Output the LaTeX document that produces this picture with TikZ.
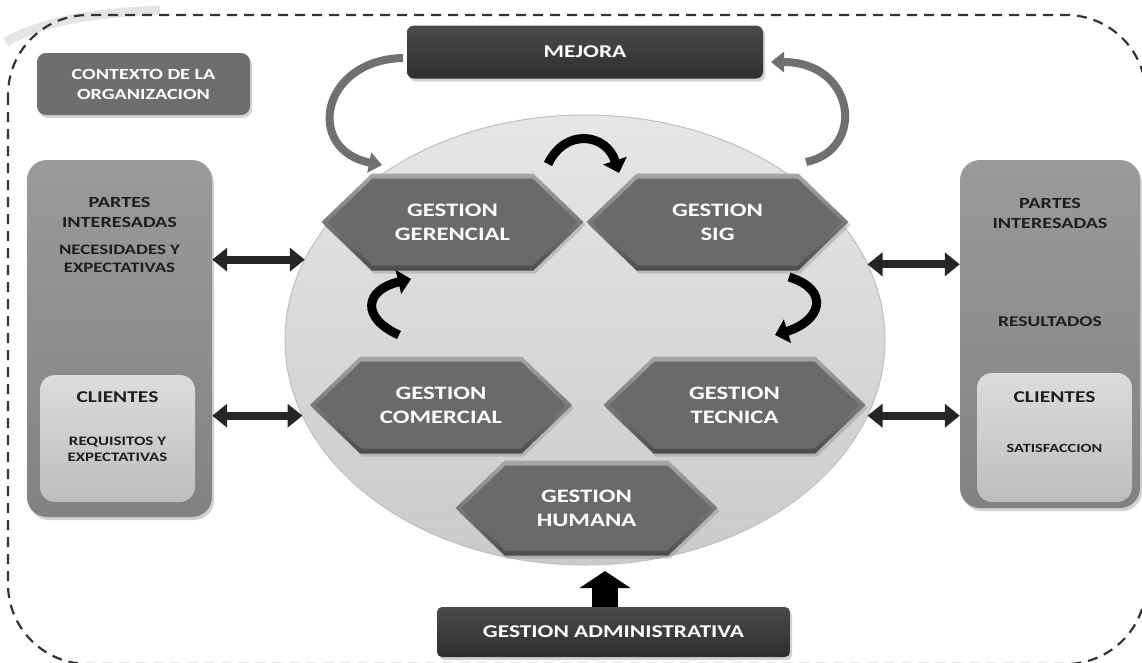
\documentclass[tikz,border=0pt]{standalone}
\usepackage{fontspec}
\setmainfont{Carlito}[FakeStretch=1.3]
\usetikzlibrary{shapes.symbols,shapes.geometric,arrows.meta,shadows,calc}
\definecolor{boxdark}{HTML}{2F2F2F}
\definecolor{boxdarklt}{HTML}{4A4A4A}
\definecolor{ctxgray}{HTML}{6E6E6E}
\definecolor{partlt}{HTML}{9A9A9A}
\definecolor{partdk}{HTML}{828282}
\definecolor{clilt}{HTML}{DCDCDC}
\definecolor{clidk}{HTML}{BDBDBD}
\definecolor{hexlt}{HTML}{A6A6A6}
\definecolor{hexdk}{HTML}{4C4C4C}
\definecolor{hexfill}{HTML}{6A6A6A}
\definecolor{elltop}{HTML}{E6E6E6}
\definecolor{ellbot}{HTML}{CACACA}
\definecolor{txtdark}{HTML}{1E1E1E}
\definecolor{arcgray}{HTML}{707070}
\definecolor{arrdark}{HTML}{262626}
\tikzset{
  shad/.style={drop shadow={opacity=0.35,shadow xshift=2pt,shadow yshift=-3pt}},
  hexout/.style={shape=signal, signal to=west and east, signal pointer angle=88,
    minimum width=262pt, minimum height=97pt, inner sep=0pt, outer sep=0pt,
    top color=hexlt, bottom color=hexdk, shad},
  hexin/.style={shape=signal, signal to=west and east, signal pointer angle=88,
    minimum width=250pt, minimum height=87pt, inner sep=0pt, outer sep=0pt,
    fill=hexfill, text=white, align=center,
    font=\fontsize{19}{24}\selectfont\bfseries},
  darkbox/.style={rectangle, rounded corners=7pt, top color=boxdarklt, bottom color=boxdark,
    text=white, align=center, inner sep=0pt, shad,
    font=\fontsize{18}{22}\selectfont\bfseries},
  ctxbox/.style={rectangle, rounded corners=9pt, fill=ctxgray, text=white, align=center,
    inner sep=0pt, shad, font=\fontsize{15.5}{20}\selectfont\bfseries},
  partbox/.style={rectangle, rounded corners=20pt, top color=partlt, bottom color=partdk,
    inner sep=0pt, shad},
  clibox/.style={rectangle, rounded corners=15pt, top color=clilt, bottom color=clidk,
    inner sep=0pt, shad},
  ttl/.style={text=txtdark, align=center, inner sep=0pt, font=\fontsize{15.5}{20}\selectfont\bfseries},
  sub/.style={text=txtdark, align=center, inner sep=0pt, font=\fontsize{14.5}{18}\selectfont\bfseries},
  dblarrow/.style={draw=arrdark, line width=8pt,
    {Triangle[width=23pt,length=15pt]}-{Triangle[width=23pt,length=15pt]}},
  cycarrow/.style={draw=black, line width=9pt, -{Triangle[width=24pt,length=13pt]}},
  arcarrow/.style={draw=arcgray, line width=8pt, -{Triangle[width=20pt,length=13pt]}},
  uparrow/.style={draw=black, line width=26pt, -{Triangle[width=50pt,length=17pt]}},
}
\begin{document}
\begin{tikzpicture}[x=1pt,y=-1pt]
\useasboundingbox (0,0) rectangle (1142,662);
\clip (0,0) rectangle (1142,662);
\fill[white] (0,0) rectangle (1142,662);

% faint band at top-left
\draw[line width=9pt, gray!30, opacity=0.7] (6,42) .. controls (40,22) and (90,13) .. (160,10);

% dashed frame
\draw[black!80, line width=2.2pt, dash pattern=on 10pt off 7pt, rounded corners=80pt]
  (8,15) rectangle (1146,664);

% ellipse
\node[ellipse, minimum width=600pt, minimum height=450pt, inner sep=0pt, outer sep=0pt,
  top color=elltop, bottom color=ellbot, draw=black!25, line width=1pt] (ell) at (585,340) {};

% top boxes
\node[darkbox, minimum width=356pt, minimum height=53pt] (mej) at (585,52) {MEJORA};
\node[ctxbox, minimum width=213pt, minimum height=62pt] (ctx) at (143.5,84) {CONTEXTO DE LA\\ORGANIZACION};

% left side
\node[partbox, minimum width=185pt, minimum height=357pt] (pl) at (119.5,338.5) {};
\node[clibox, minimum width=155pt, minimum height=127pt] (cl) at (117.5,438.5) {};
\node[ttl] (plt) at (119.5,212) {PARTES\\INTERESADAS};
\node[sub] (pls) at (119.5,259) {NECESIDADES Y\\EXPECTATIVAS};
\node[ttl, font=\fontsize{16.5}{20}\selectfont\bfseries] (clt) at (117.5,397) {CLIENTES};
\node[sub, font=\fontsize{13}{16}\selectfont\bfseries] (cls) at (117.5,449.5) {REQUISITOS Y\\EXPECTATIVAS};

% right side
\node[partbox, minimum width=180pt, minimum height=348pt] (pr) at (1050,334) {};
\node[clibox, minimum width=155pt, minimum height=129pt] (cr) at (1054.5,437.5) {};
\node[ttl] (prt) at (1050,213) {PARTES\\INTERESADAS};
\node[sub, font=\fontsize{15}{18}\selectfont\bfseries] (prs) at (1050,322) {RESULTADOS};
\node[ttl, font=\fontsize{16.5}{20}\selectfont\bfseries] (crt) at (1054.5,397) {CLIENTES};
\node[sub, font=\fontsize{12.5}{15}\selectfont\bfseries] (crs) at (1054.5,448) {SATISFACCION};

% hexagons
\node[hexout] (gerB) at (452.5,222) {};
\node[hexin] (ger) at (452.5,222) {GESTION\\GERENCIAL};
\node[hexout] (sigB) at (717.5,222) {};
\node[hexin] (sig) at (717.5,222) {GESTION\\SIG};
\node[hexout] (comB) at (441,405) {};
\node[hexin] (com) at (441,405) {GESTION\\COMERCIAL};
\node[hexout] (tecB) at (734.5,405) {};
\node[hexin] (tec) at (734.5,405) {GESTION\\TECNICA};
\node[hexout, minimum height=95pt] (humB) at (586.5,508) {};
\node[hexin, minimum height=85pt] (hum) at (586.5,508) {GESTION\\HUMANA};

% bottom box
\node[darkbox, rounded corners=5pt, minimum width=353pt, minimum height=50pt] (ga) at (613.5,632) {GESTION ADMINISTRATIVA};

% double arrows
\draw[dblarrow] (pl.east |- ell.164) -- (ell.164);
\draw[dblarrow] (pl.east |- ell.195) -- (ell.195);
\draw[dblarrow] (ell.15) -- (pr.west |- ell.15);
\draw[dblarrow] (ell.345) -- (pr.west |- ell.345);

% cycle arrows
\coordinate (c1a) at (548,164);
\coordinate (c1b) at (619,173);
\coordinate (c2a) at (789,277);
\coordinate (c2b) at (775,335);
\coordinate (c3a) at (399,335);
\coordinate (c3b) at (411,279);
\draw[cycarrow] (c1a) .. controls (565,128) and (606,133) .. (c1b);
\draw[cycarrow] (c2a) .. controls (831,290) and (821,321) .. (c2b);
\draw[cycarrow] (c3a) .. controls (361,318) and (364,290) .. (c3b);

% improvement arcs
\coordinate (m1a) at (403,58);
\coordinate (m1b) at (382,165);
\coordinate (m2a) at (806,162);
\coordinate (m2b) at (771,62);
\draw[arcarrow] (m1a) .. controls (320,60) and (305,150) .. (m1b);
\draw[arcarrow] (m2a) .. controls (866,150) and (856,62) .. (m2b);

% up arrow
\coordinate (upt) at (605,571);
\draw[uparrow] (ga.north -| upt) -- (upt);
\end{tikzpicture}
\end{document}
